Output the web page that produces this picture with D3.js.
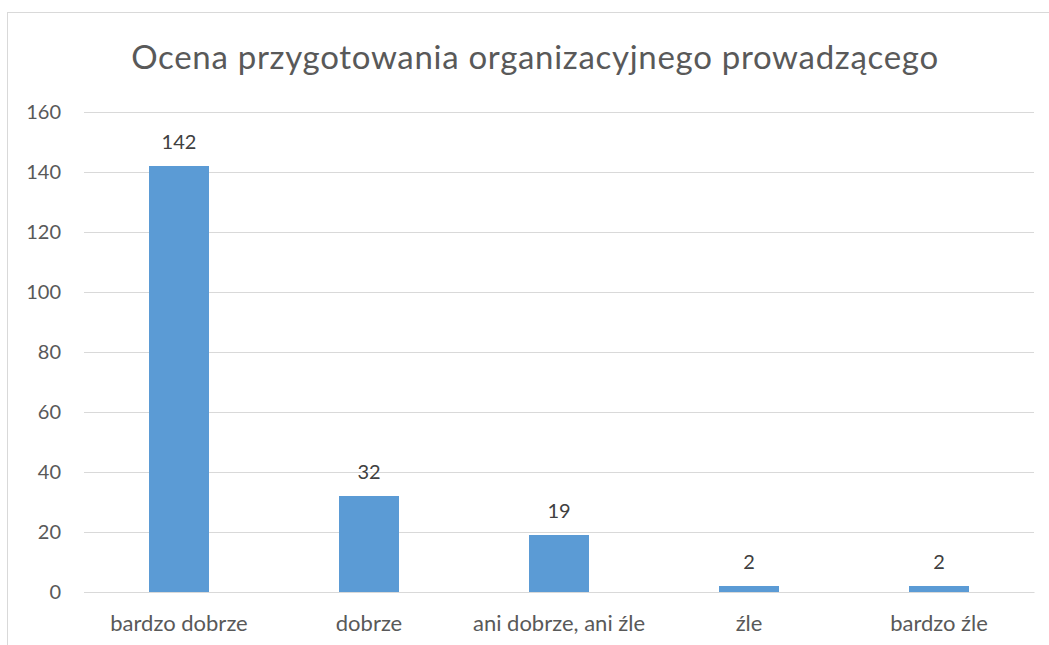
<!DOCTYPE html>
<html>
<head>
<meta charset="utf-8">
<script src="https://cdn.jsdelivr.net/npm/d3@7"></script>
<style>
  body { margin: 0; background: #fff; }
  text { font-family: Lato, "Open Sans", sans-serif; }
</style>
</head>
<body>
<script>
var categories = ["bardzo dobrze", "dobrze", "ani dobrze, ani źle", "źle", "bardzo źle"];
var values = [142, 32, 19, 2, 2];
var yTicks = [0, 20, 40, 60, 80, 100, 120, 140, 160];
var title = "Ocena przygotowania organizacyjnego prowadzącego";

var w = 1049;
var h = 645;

var svg = d3.select("body")
    .append("svg")
    .attr("width", w)
    .attr("height", h);

// outer chart frame (right and bottom edges fall outside the picture)
svg.append("rect")
    .attr("x", 7.5)
    .attr("y", 12.5)
    .attr("width", 1100)
    .attr("height", 700)
    .attr("fill", "none")
    .attr("stroke", "#d9d9d9")
    .attr("stroke-width", 1);

var xScale = d3.scaleBand()
    .domain(categories)
    .range([84, 1034])
    .paddingInner(130 / 190)
    .paddingOuter(65 / 190);

var yScale = d3.scaleLinear()
    .domain([0, 160])
    .range([592, 112]);

svg.append("text")
    .attr("x", 535)
    .attr("y", 69)
    .attr("text-anchor", "middle")
    .attr("fill", "#595959")
    .style("font-size", "33px")
    .style("letter-spacing", "0.7px")
    .text(title);

// gridlines
var yAxis = d3.axisLeft(yScale)
    .tickValues(yTicks)
    .tickSize(-(1034 - 84))
    .tickPadding(23);

var gy = svg.append("g")
    .attr("transform", "translate(84,0)")
    .call(yAxis);

gy.select(".domain").remove();
gy.selectAll("line").attr("stroke", "#d9d9d9");
gy.selectAll("text")
    .attr("fill", "#595959")
    .style("font-size", "20px")
    .style("font-family", "Lato, sans-serif");

svg.selectAll("rect.bar")
    .data(values)
    .enter()
    .append("rect")
    .attr("class", "bar")
    .attr("x", function(d, i) { return xScale(categories[i]); })
    .attr("y", function(d) { return yScale(d); })
    .attr("width", xScale.bandwidth())
    .attr("height", function(d) { return yScale(0) - yScale(d); })
    .attr("fill", "#5b9bd5");

svg.selectAll("text.label")
    .data(values)
    .enter()
    .append("text")
    .attr("class", "label")
    .attr("x", function(d, i) { return xScale(categories[i]) + xScale.bandwidth() / 2; })
    .attr("y", function(d) { return yScale(d) - 17; })
    .attr("text-anchor", "middle")
    .attr("fill", "#404040")
    .style("font-size", "20px")
    .text(function(d) { return d; });

var xAxis = d3.axisBottom(xScale)
    .tickSize(0)
    .tickPadding(23);

var gx = svg.append("g")
    .attr("transform", "translate(0,592)")
    .call(xAxis);

gx.select(".domain").attr("stroke", "#d9d9d9");
gx.selectAll("text")
    .attr("fill", "#595959")
    .style("font-size", "22px")
    .style("font-family", "Lato, sans-serif");
</script>
</body>
</html>
